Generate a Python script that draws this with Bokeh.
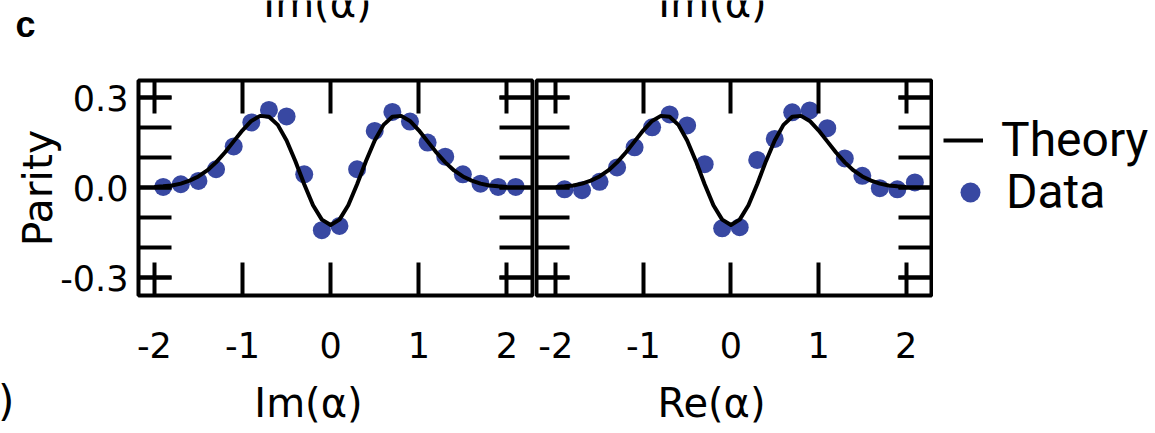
from bokeh.plotting import figure
from bokeh.models import (Range1d, LinearAxis, FixedTicker, Label, Legend, LegendItem,
                          CustomJSTickFormatter)
from bokeh.layouts import row, column
from bokeh.embed import file_html
from bokeh.resources import INLINE
from bokeh.core.validation import silence
from bokeh.core.validation.warnings import MISSING_RENDERERS

silence(MISSING_RENDERERS, True)

# ---------------- data ----------------
x_ticks = [-2, -1, 0, 1, 2]
x_tick_labels = ["-2", "-1", "0", "1", "2"]
y_ticks = [-0.3, 0.0, 0.3]
y_tick_labels = ["-0.3", "0.0", "0.3"]
y_minor_ticks = [-0.3, -0.2, -0.1, 0.0, 0.1, 0.2, 0.3]

theory_x = [-2.0, -1.9, -1.8, -1.7, -1.6, -1.5, -1.4, -1.3, -1.2, -1.1, -1.0,
            -0.9, -0.8, -0.7, -0.6, -0.5, -0.4, -0.3, -0.2, -0.1, 0.0,
            0.1, 0.2, 0.3, 0.4, 0.5, 0.6, 0.7, 0.8, 0.9, 1.0,
            1.1, 1.2, 1.3, 1.4, 1.5, 1.6, 1.7, 1.8, 1.9, 2.0]
theory_y = [0.002, 0.004, 0.007, 0.013, 0.023, 0.037, 0.057, 0.084, 0.117, 0.154, 0.191,
            0.222, 0.239, 0.236, 0.209, 0.157, 0.088, 0.011, -0.059, -0.107, -0.125,
            -0.107, -0.059, 0.011, 0.088, 0.157, 0.209, 0.236, 0.239, 0.222, 0.191,
            0.154, 0.117, 0.084, 0.057, 0.037, 0.023, 0.013, 0.007, 0.004, 0.002]

data_x = [-1.9, -1.7, -1.5, -1.3, -1.1, -0.9, -0.7, -0.5, -0.3, -0.1, 0.1,
          0.3, 0.5, 0.7, 0.9, 1.1, 1.3, 1.5, 1.7, 1.9, 2.1]
im_y = [0.002, 0.011, 0.022, 0.061, 0.137, 0.217, 0.259, 0.237, 0.044, -0.142, -0.128,
        0.061, 0.189, 0.252, 0.220, 0.150, 0.103, 0.044, 0.013, 0.002, 0.002]
re_y = [-0.006, -0.009, 0.019, 0.067, 0.134, 0.201, 0.244, 0.207, 0.078, -0.136, -0.132,
        0.092, 0.162, 0.251, 0.257, 0.198, 0.097, 0.039, -0.002, -0.006, 0.017]

x_label_left = "Im(\u03b1)"
x_label_right = "Re(\u03b1)"
y_label = "Parity"
series_names = ["Theory", "Data"]
panel_tag = "c"

# ---------------- style ----------------
BLUE = "#3848a2"
AX_FONT = "DejaVu Sans"
LEG_FONT = "Roboto"
TOTAL_W = 1152
TOP_H, ROW_H, BOT_H = 44, 334, 52
ROW_TOP, ROW_BOTTOM = 36, 83
W1, W2 = 534, 399
W3 = TOTAL_W - W1 - W2


def style_axis(ax, labels=True):
    ax.axis_line_color = None
    ax.major_tick_in = 33
    ax.major_tick_out = 0
    ax.major_tick_line_width = 4
    ax.major_tick_line_color = "black"
    ax.minor_tick_in = 33
    ax.minor_tick_out = 0
    ax.minor_tick_line_width = 4
    ax.minor_tick_line_color = "black"
    ax.major_label_text_font = AX_FONT
    ax.major_label_text_font_size = "35px"
    ax.major_label_text_color = "black"
    if not labels:
        ax.formatter = CustomJSTickFormatter(code="return ''")
        ax.major_label_text_font_size = "0px"
        ax.major_label_standoff = 0


def make_panel(width, min_left, min_right, xr, ys, left_labels):
    p = figure(width=width, height=ROW_H, x_range=Range1d(*xr),
               y_range=Range1d(-0.36, 0.357), toolbar_location=None,
               output_backend="svg", x_axis_type=None, y_axis_type=None,
               min_border_left=min_left, min_border_right=min_right,
               min_border_top=ROW_TOP, min_border_bottom=ROW_BOTTOM)
    p.outline_line_color = "black"
    p.outline_line_width = 4
    p.outline_line_alpha = 1
    p.background_fill_color = "white"
    p.border_fill_color = "white"

    below = LinearAxis(ticker=FixedTicker(ticks=x_ticks),
                       major_label_overrides=dict(zip(x_ticks, x_tick_labels)))
    style_axis(below)
    below.major_label_standoff = 36
    p.add_layout(below, "below")

    above = LinearAxis(ticker=FixedTicker(ticks=x_ticks))
    style_axis(above, labels=False)
    p.add_layout(above, "above")

    left = LinearAxis(ticker=FixedTicker(ticks=y_ticks, minor_ticks=y_minor_ticks))
    if left_labels:
        left.major_label_overrides = dict(zip(y_ticks, y_tick_labels))
        style_axis(left)
        left.major_label_standoff = 10
        left.axis_label = y_label
        left.axis_label_text_font = AX_FONT
        left.axis_label_text_font_size = "41px"
        left.axis_label_text_font_style = "normal"
        left.axis_label_text_color = "black"
        left.axis_label_standoff = -5
    else:
        style_axis(left, labels=False)
    p.add_layout(left, "left")

    right = LinearAxis(ticker=FixedTicker(ticks=y_ticks, minor_ticks=y_minor_ticks))
    style_axis(right, labels=False)
    p.add_layout(right, "right")

    dots = p.scatter(data_x, ys, size=18, fill_color=BLUE, line_color=None, marker="circle")
    line = p.line(theory_x, theory_y, line_color="black", line_width=4, line_join="round")
    return p, dots, line


p1, d1, l1 = make_panel(W1, 138, 2, (-2.18, 2.29), im_y, True)
p2, d2, l2 = make_panel(W2, 2, 2, (-2.22, 2.29), re_y, False)

# legend panel to the right of the second panel (its frame lines up with the panels)
p3 = figure(width=W3, height=ROW_H, x_range=Range1d(0, 1), y_range=Range1d(0, 1),
            toolbar_location=None, output_backend="svg", x_axis_type=None, y_axis_type=None,
            min_border_left=0, min_border_right=0, min_border_top=ROW_TOP,
            min_border_bottom=ROW_BOTTOM)
p3.outline_line_color = None
p3.background_fill_color = "white"
p3.border_fill_color = "white"
# legend keys: same series and styles as in the panels, not drawn here
key_line = p3.line(theory_x, theory_y, line_color="black", line_width=4, visible=False)
key_dot = p3.scatter(data_x, re_y, size=18, fill_color=BLUE, line_color=None,
                     marker="circle", visible=False)

common = dict(border_line_color=None, background_fill_alpha=0, padding=0, margin=0,
              spacing=0, label_text_font=LEG_FONT, label_text_font_size="48px",
              label_text_color="black", glyph_height=56, label_height=56,
              inactive_fill_alpha=0)
leg_t = Legend(items=[LegendItem(label=series_names[0], renderers=[key_line])],
               location=(10, 127), glyph_width=40, label_standoff=18, **common)
leg_d = Legend(items=[LegendItem(label=series_names[1], renderers=[key_dot])],
               location=(12, 75), glyph_width=50, label_standoff=11, **common)
p3.add_layout(leg_t)
p3.add_layout(leg_d)


def strip(height, y0):
    s = figure(width=TOTAL_W, height=height, x_range=Range1d(0, TOTAL_W),
               y_range=Range1d(y0 + height, y0), toolbar_location=None,
               output_backend="svg", x_axis_type=None, y_axis_type=None,
               min_border_left=0, min_border_right=0, min_border_top=0,
               min_border_bottom=0)
    s.outline_line_color = None
    s.background_fill_color = "white"
    s.border_fill_color = "white"
    return s


def txt(s, x, baseline, text, size_px, align="center", font=AX_FONT, style="normal"):
    # labels are anchored at the middle of their text box
    s.add_layout(Label(x=x, y=baseline - 0.35 * size_px, text=text, text_align=align,
                       text_baseline="middle", text_font=font,
                       text_font_size=f"{size_px}px", text_font_style=style,
                       text_color="black"))


# top strip: panel tag and the cut-off axis labels of the panels above
top = strip(TOP_H, 0)
txt(top, 15, 37, panel_tag, 36, align="left", font="Liberation Sans", style="bold")
txt(top, 317, 16, x_label_left, 40)
txt(top, 712, 16, x_label_left, 40)

# bottom strip: x-axis titles and a cut-off bracket of the neighbouring panel
bottom = strip(BOT_H, TOP_H + ROW_H)
txt(bottom, 308, 416, x_label_left, 40)
txt(bottom, 711, 416, x_label_right, 40)
txt(bottom, 14, 416, ")", 42, align="right")

layout = column(top, row(p1, p2, p3), bottom)
open("out.html", "w").write(file_html(layout, INLINE))
